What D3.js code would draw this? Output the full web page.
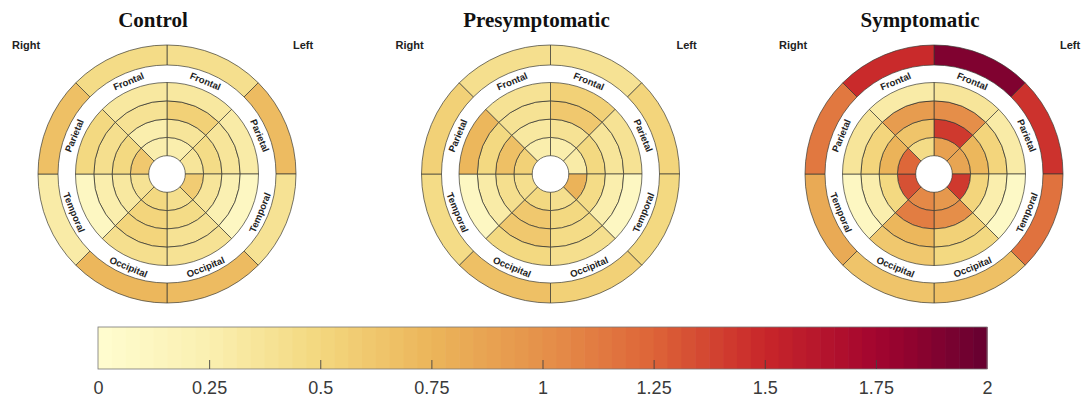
<!DOCTYPE html>
<html>
<head>
<meta charset="utf-8">
<script src="https://cdn.jsdelivr.net/npm/d3@7"></script>
<style>
  body { margin: 0; background: #fff; }
  svg { display: block; }
</style>
</head>
<body>
<div id="chart"></div>
<script>
var svgWidth = 1092;
var svgHeight = 406;

// groups and region names, sectors go clockwise from 12 o'clock
var groups = ["Control", "Presymptomatic", "Symptomatic"];
var regionNames = ["Frontal", "Parietal", "Temporal", "Occipital",
                   "Occipital", "Temporal", "Parietal", "Frontal"];
var colorTicks = [0, 0.25, 0.5, 0.75, 1, 1.25, 1.5, 1.75, 2];

// inner rings, innermost first, 8 sectors each
var controlRings = [
  [0.28, 0.35, 0.58, 0.43, 0.47, 0.38, 0.60, 0.27],
  [0.35, 0.45, 0.35, 0.45, 0.50, 0.32, 0.48, 0.28],
  [0.55, 0.35, 0.22, 0.38, 0.52, 0.25, 0.42, 0.38],
  [0.33, 0.30, 0.10, 0.38, 0.42, 0.10, 0.48, 0.33]
];
var controlOuter = [0.43, 0.70, 0.40, 0.70, 0.72, 0.30, 0.66, 0.45];

var presymRings = [
  [0.28, 0.30, 0.75, 0.43, 0.47, 0.42, 0.55, 0.28],
  [0.38, 0.47, 0.45, 0.48, 0.60, 0.42, 0.66, 0.32],
  [0.62, 0.35, 0.25, 0.46, 0.62, 0.30, 0.48, 0.38],
  [0.55, 0.38, 0.12, 0.42, 0.48, 0.10, 0.72, 0.38]
];
var presymOuter = [0.40, 0.50, 0.47, 0.55, 0.67, 0.45, 0.55, 0.42];

var symRings = [
  [0.88, 0.85, 1.42, 0.95, 1.05, 1.32, 1.22, 0.45],
  [1.42, 0.72, 0.50, 1.00, 1.12, 0.48, 0.75, 0.65],
  [1.00, 0.50, 0.28, 0.55, 0.72, 0.28, 0.52, 0.92],
  [0.35, 0.30, 0.08, 0.48, 0.62, 0.10, 0.35, 0.30]
];
var symOuter = [1.90, 1.45, 1.18, 0.68, 0.64, 0.82, 1.15, 1.47];

var panels = [
  {name: groups[0], rings: controlRings, outer: controlOuter},
  {name: groups[1], rings: presymRings, outer: presymOuter},
  {name: groups[2], rings: symRings, outer: symOuter}
];

// colour ramp sampled off the colourbar (yellow -> orange -> dark red)
var rampColors = ["#fffdd0", "#faefb0", "#f3d77e", "#ebb55a", "#e5914a",
                  "#dd6438", "#c8262a", "#a3052f", "#650030"];
var ramp = d3.scaleLinear()
    .domain(colorTicks)
    .range(rampColors)
    .interpolate(d3.interpolateRgb)
    .clamp(true);
var nSteps = 64;
function colorOf(v) {
    var i = Math.max(0, Math.min(nSteps - 1, Math.floor(v / 2 * nSteps)));
    return ramp((i + 0.5) / nSteps * 2);
}

var svg = d3.select("#chart").append("svg")
    .attr("width", svgWidth)
    .attr("height", svgHeight);

var cxScale = d3.scalePoint().domain(groups).range([167, 934]);
var cy = 174;
var angleScale = d3.scaleBand().domain(d3.range(8)).range([0, 2 * Math.PI]);
var rScale = d3.scaleLinear().domain([0, 5]).range([0, 91.5]);
var outerIn = 109, outerOut = 129, labelR = 100.5;
var arc = d3.arc();
var lineColor = "#3b3b33";

panels.forEach(function(p) {
    var cx = cxScale(p.name);
    var g = svg.append("g").attr("transform", `translate(${cx},${cy})`);

    var cells = [];
    p.rings.forEach(function(ring, ri) {
        ring.forEach(function(v, si) { cells.push({ri: ri, si: si, v: v}); });
    });

    g.selectAll("path.cell")
        .data(cells)
        .enter()
        .append("path")
        .attr("class", "cell")
        .attr("d", function(d) {
            return arc({
                innerRadius: rScale(d.ri + 1),
                outerRadius: rScale(d.ri + 2),
                startAngle: angleScale(d.si),
                endAngle: angleScale(d.si) + angleScale.bandwidth()
            });
        })
        .attr("fill", function(d) { return colorOf(d.v); })
        .attr("stroke", lineColor)
        .attr("stroke-width", 0.7);

    g.selectAll("path.outer")
        .data(p.outer)
        .enter()
        .append("path")
        .attr("class", "outer")
        .attr("d", function(d, i) {
            return arc({
                innerRadius: outerIn,
                outerRadius: outerOut,
                startAngle: angleScale(i),
                endAngle: angleScale(i) + angleScale.bandwidth()
            });
        })
        .attr("fill", function(d) { return colorOf(d); })
        .attr("stroke", lineColor)
        .attr("stroke-width", 0.7);

    g.selectAll("text.region")
        .data(regionNames)
        .enter()
        .append("text")
        .attr("class", "region")
        .attr("transform", function(d, i) {
            var a = angleScale(i) + angleScale.bandwidth() / 2;
            var deg = a * 180 / Math.PI;
            if (deg > 90 && deg < 270) deg -= 180;
            return `translate(${labelR * Math.sin(a)},${-labelR * Math.cos(a)}) rotate(${deg})`;
        })
        .attr("text-anchor", "middle")
        .attr("dominant-baseline", "central")
        .style("font-family", "'Liberation Sans', Arial, sans-serif")
        .style("font-weight", "bold")
        .style("font-size", "9.5px")
        .attr("fill", "#222")
        .text(function(d) { return d; });

    svg.append("text")
        .attr("x", cx - 14)
        .attr("y", 27)
        .attr("text-anchor", "middle")
        .style("font-family", "'Liberation Serif', 'Times New Roman', serif")
        .style("font-weight", "bold")
        .style("font-size", "21px")
        .attr("fill", "#111")
        .text(p.name);

    svg.append("text")
        .attr("x", cx - 141)
        .attr("y", 49)
        .attr("text-anchor", "middle")
        .style("font-family", "'Liberation Sans', Arial, sans-serif")
        .style("font-weight", "bold")
        .style("font-size", "11px")
        .attr("fill", "#222")
        .text("Right");

    svg.append("text")
        .attr("x", cx + 136)
        .attr("y", 49)
        .attr("text-anchor", "middle")
        .style("font-family", "'Liberation Sans', Arial, sans-serif")
        .style("font-weight", "bold")
        .style("font-size", "11px")
        .attr("fill", "#222")
        .text("Left");
});

// colourbar
var barTop = 327, barBottom = 369;
var xBar = d3.scaleLinear().domain([0, 2]).range([98, 987]);

svg.append("g")
    .selectAll("rect")
    .data(d3.range(nSteps))
    .enter()
    .append("rect")
    .attr("x", function(i) { return xBar(i / nSteps * 2); })
    .attr("y", barTop)
    .attr("width", function(i) { return xBar((i + 1) / nSteps * 2) - xBar(i / nSteps * 2) + 0.6; })
    .attr("height", barBottom - barTop)
    .attr("fill", function(i) { return ramp((i + 0.5) / nSteps * 2); });

svg.append("rect")
    .attr("x", xBar(0))
    .attr("y", barTop)
    .attr("width", xBar(2) - xBar(0))
    .attr("height", barBottom - barTop)
    .attr("fill", "none")
    .attr("stroke", "#777")
    .attr("stroke-width", 0.8);

var barAxis = d3.axisBottom(xBar)
    .tickValues(colorTicks)
    .tickFormat(function(d) { return String(d); })
    .tickSizeInner(-9)
    .tickSizeOuter(0)
    .tickPadding(12);

var axisG = svg.append("g")
    .attr("transform", `translate(0, ${barBottom})`)
    .call(barAxis);
axisG.select(".domain").remove();
axisG.selectAll(".tick line").attr("stroke", "#444").attr("stroke-width", 0.9);
axisG.selectAll(".tick").filter(function(d) { return d === 0 || d === 2; }).select("line").remove();
axisG.selectAll(".tick text")
    .style("font-family", "'Liberation Sans', Arial, sans-serif")
    .style("font-size", "18px")
    .attr("fill", "#3a3a3a");
</script>
</body>
</html>
